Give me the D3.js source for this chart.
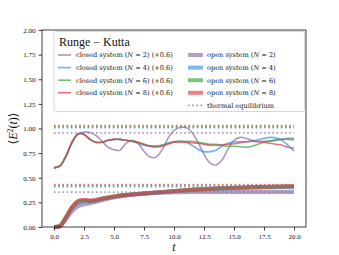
<!DOCTYPE html>
<html>
<head>
<meta charset="utf-8">
<script src="https://cdn.jsdelivr.net/npm/d3@7"></script>
<style>
  body { margin: 0; background: #fff; }
  svg text { font-family: "Liberation Serif", "DejaVu Serif", serif; fill: #111; }
</style>
</head>
<body>
<div id="svg"></div>
<script>
// time grid
const times = d3.range(0, 20.01, 0.5);
const sizes = [2, 4, 6, 8];
const colors = ['#8e6aa8', '#3d8ee8', '#35a83a', '#e03c46'];

// closed system values (already shifted by +0.6)
const closedN2 = [0.60, 0.62, 0.72, 0.86, 0.945, 0.965, 0.96, 0.93, 0.87, 0.81, 0.785, 0.78, 0.85, 0.88, 0.85, 0.77, 0.71, 0.71, 0.78, 0.90, 0.98, 1.01, 1.01, 0.96, 0.86, 0.74, 0.65, 0.63, 0.68, 0.79, 0.88, 0.91, 0.90, 0.88, 0.87, 0.87, 0.87, 0.88, 0.89, 0.90, 0.90];
const closedN4 = [0.60, 0.62, 0.72, 0.86, 0.945, 0.94, 0.89, 0.86, 0.86, 0.88, 0.89, 0.89, 0.88, 0.87, 0.85, 0.83, 0.82, 0.82, 0.83, 0.85, 0.865, 0.87, 0.86, 0.83, 0.79, 0.765, 0.765, 0.78, 0.82, 0.85, 0.865, 0.865, 0.865, 0.87, 0.885, 0.90, 0.91, 0.905, 0.88, 0.83, 0.77];
const closedN6 = [0.60, 0.62, 0.72, 0.86, 0.945, 0.94, 0.89, 0.86, 0.86, 0.88, 0.89, 0.89, 0.88, 0.87, 0.86, 0.84, 0.825, 0.82, 0.83, 0.85, 0.865, 0.87, 0.87, 0.87, 0.86, 0.85, 0.84, 0.84, 0.83, 0.82, 0.82, 0.815, 0.81, 0.82, 0.84, 0.86, 0.875, 0.885, 0.89, 0.89, 0.885];
const closedN8 = [0.60, 0.62, 0.72, 0.86, 0.945, 0.94, 0.89, 0.86, 0.86, 0.88, 0.89, 0.89, 0.88, 0.87, 0.86, 0.84, 0.82, 0.81, 0.82, 0.84, 0.86, 0.86, 0.86, 0.855, 0.85, 0.84, 0.83, 0.83, 0.835, 0.84, 0.845, 0.855, 0.865, 0.87, 0.865, 0.86, 0.85, 0.84, 0.83, 0.81, 0.80];

// open system values
const openN2 = [0.0, 0.01, 0.08, 0.16, 0.21, 0.23, 0.24, 0.255, 0.27, 0.285, 0.30, 0.31, 0.32, 0.33, 0.335, 0.34, 0.345, 0.348, 0.35, 0.351, 0.352, 0.353, 0.354, 0.355, 0.355, 0.355, 0.355, 0.355, 0.355, 0.355, 0.355, 0.355, 0.355, 0.355, 0.355, 0.355, 0.355, 0.355, 0.355, 0.355, 0.355];
const openN4 = [0.0, 0.01, 0.095, 0.19, 0.245, 0.26, 0.26, 0.27, 0.285, 0.297, 0.307, 0.317, 0.323, 0.328, 0.333, 0.338, 0.343, 0.348, 0.352, 0.357, 0.362, 0.367, 0.371, 0.375, 0.378, 0.381, 0.384, 0.387, 0.389, 0.391, 0.393, 0.395, 0.397, 0.398, 0.399, 0.400, 0.401, 0.402, 0.403, 0.403, 0.404];
const openN6 = [0.0, 0.01, 0.10, 0.20, 0.258, 0.27, 0.267, 0.273, 0.288, 0.299, 0.309, 0.319, 0.325, 0.33, 0.335, 0.34, 0.345, 0.35, 0.354, 0.359, 0.364, 0.369, 0.373, 0.378, 0.381, 0.384, 0.387, 0.39, 0.393, 0.395, 0.397, 0.399, 0.401, 0.403, 0.405, 0.406, 0.407, 0.408, 0.409, 0.41, 0.411];
const openN8 = [0.0, 0.01, 0.10, 0.20, 0.265, 0.275, 0.27, 0.275, 0.29, 0.30, 0.31, 0.32, 0.325, 0.33, 0.335, 0.34, 0.345, 0.35, 0.355, 0.36, 0.365, 0.37, 0.375, 0.38, 0.383, 0.386, 0.389, 0.392, 0.395, 0.397, 0.399, 0.401, 0.403, 0.405, 0.407, 0.409, 0.41, 0.411, 0.412, 0.413, 0.414];

// thermal equilibrium levels (open), closed ones are +0.6
const thermal = [0.355, 0.41, 0.42, 0.43];

const xTicks = [0, 2.5, 5, 7.5, 10, 12.5, 15, 17.5, 20];
const yTicks = [0, 0.25, 0.5, 0.75, 1.0, 1.25, 1.5, 1.75, 2.0];

function makeGraph(){
  let w = 339;
  let h = 255;
  let m = {left: 42, right: 33, top: 30, bottom: 28};

  let svg = d3.select('#svg').append('svg').attr('width', w).attr('height', h);

  let xScale = d3.scaleLinear().domain([-1, 21]).range([m.left, w - m.right]);
  let yScale = d3.scaleLinear().domain([0, 2]).range([h - m.bottom, m.top]);

  let line = d3.line()
    .x((d) => xScale(d[0]))
    .y((d) => yScale(d[1]))
    .curve(d3.curveCatmullRom.alpha(0.5));

  let closed = [closedN2, closedN4, closedN6, closedN8];
  let open = [openN2, openN4, openN6, openN8];

  closed.forEach((vals, i) => {
    svg.append('path')
      .attr('d', line(times.map((t, j) => [t, vals[j]])))
      .attr('fill', 'none')
      .attr('stroke', colors[i])
      .attr('stroke-opacity', 0.7)
      .attr('stroke-width', 1.6);
  });

  open.forEach((vals, i) => {
    svg.append('path')
      .attr('d', line(times.map((t, j) => [t, vals[j]])))
      .attr('fill', 'none')
      .attr('stroke', colors[i])
      .attr('stroke-opacity', 0.65)
      .attr('stroke-width', 4);
  });

  thermal.forEach((v, i) => {
    [v, v + 0.6].forEach((lev) => {
      svg.append('line')
        .attr('x1', xScale(0)).attr('x2', xScale(20))
        .attr('y1', yScale(lev)).attr('y2', yScale(lev))
        .attr('stroke', colors[i])
        .attr('stroke-opacity', 0.7)
        .attr('stroke-width', 1.8)
        .attr('stroke-dasharray', '1.6,2.6');
    });
  });

  // axes
  let xAxis = d3.axisBottom(xScale).tickValues(xTicks).tickFormat(d3.format('.1f')).tickSizeOuter(0).tickSize(3.5);
  let xAxisGroup = svg.append('g')
    .attr('transform', `translate(0, ${h - m.bottom})`)
    .call(xAxis);
  let yAxis = d3.axisLeft(yScale).tickValues(yTicks).tickFormat(d3.format('.2f')).tickSizeOuter(0).tickSize(3.5);
  let yAxisGroup = svg.append('g')
    .attr('transform', `translate(${m.left}, 0)`)
    .call(yAxis);
  [xAxisGroup, yAxisGroup].forEach((g) => {
    g.select('.domain').remove();
    g.selectAll('text').style('font-family', '"Liberation Serif", serif').style('font-size', '7px').attr('fill', '#111');
    g.selectAll('line').attr('stroke', '#111').attr('stroke-width', 0.8);
  });
  xAxisGroup.selectAll('text').attr('dy', '0.75em');

  // frame
  svg.append('rect')
    .attr('x', m.left).attr('y', m.top)
    .attr('width', w - m.left - m.right).attr('height', h - m.top - m.bottom)
    .attr('fill', 'none').attr('stroke', '#111').attr('stroke-width', 0.8);

  // legend
  let lg = svg.append('g');
  lg.append('rect')
    .attr('x', 54).attr('y', 31.5).attr('width', 250.5).attr('height', 80)
    .attr('fill', '#fff').attr('fill-opacity', 0.8)
    .attr('stroke', '#cccccc').attr('stroke-width', 0.8).attr('rx', 1.5);
  lg.append('text')
    .attr('x', 59).attr('y', 46)
    .style('font-size', '12px')
    .text('Runge \u2212 Kutta');

  let legendFont = '"DejaVu Serif", serif';
  let rowY = (i) => 55 + i * 12.6;
  sizes.forEach((n, i) => {
    let y = rowY(i);
    lg.append('line')
      .attr('x1', 58).attr('x2', 71).attr('y1', y).attr('y2', y)
      .attr('stroke', colors[i]).attr('stroke-opacity', 0.7).attr('stroke-width', 1.6);
    let t1 = lg.append('text').attr('x', 76).attr('y', y + 2.4)
      .style('font-family', legendFont).style('font-size', '6.6px');
    t1.append('tspan').text('closed system (');
    t1.append('tspan').style('font-style', 'italic').text('N');
    t1.append('tspan').text(` = ${n}) (+0.6)`);

    lg.append('line')
      .attr('x1', 188).attr('x2', 203).attr('y1', y).attr('y2', y)
      .attr('stroke', colors[i]).attr('stroke-opacity', 0.65).attr('stroke-width', 4);
    let t2 = lg.append('text').attr('x', 207).attr('y', y + 2.4)
      .style('font-family', legendFont).style('font-size', '6.6px');
    t2.append('tspan').text('open system (');
    t2.append('tspan').style('font-style', 'italic').text('N');
    t2.append('tspan').text(` = ${n})`);
  });
  let yTh = rowY(4);
  lg.append('line')
    .attr('x1', 188).attr('x2', 203).attr('y1', yTh).attr('y2', yTh)
    .attr('stroke', colors[0]).attr('stroke-opacity', 0.7)
    .attr('stroke-width', 1.8).attr('stroke-dasharray', '1.6,2.6');
  lg.append('text').attr('x', 207).attr('y', yTh + 2.4)
    .style('font-family', legendFont).style('font-size', '6.6px')
    .text('thermal equilibrium');

  // axis labels
  svg.append('text')
    .attr('x', (m.left + w - m.right) / 2)
    .attr('y', 251)
    .attr('text-anchor', 'middle')
    .style('font-size', '12px')
    .style('font-style', 'italic')
    .text('t');

  let yl = svg.append('text')
    .attr('transform', `translate(17, ${(m.top + h - m.bottom) / 2}) rotate(-90)`)
    .attr('text-anchor', 'middle')
    .style('font-size', '12px');
  yl.append('tspan').text('\u27e8');
  yl.append('tspan').style('font-style', 'italic').text('E');
  yl.append('tspan').attr('dy', -4.5).style('font-size', '8px').text('2');
  yl.append('tspan').attr('dy', 4.5).text('(');
  yl.append('tspan').style('font-style', 'italic').text('t');
  yl.append('tspan').text(')\u27e9');
}

window.onload = function(){
  makeGraph();
}
</script>
</body>
</html>
